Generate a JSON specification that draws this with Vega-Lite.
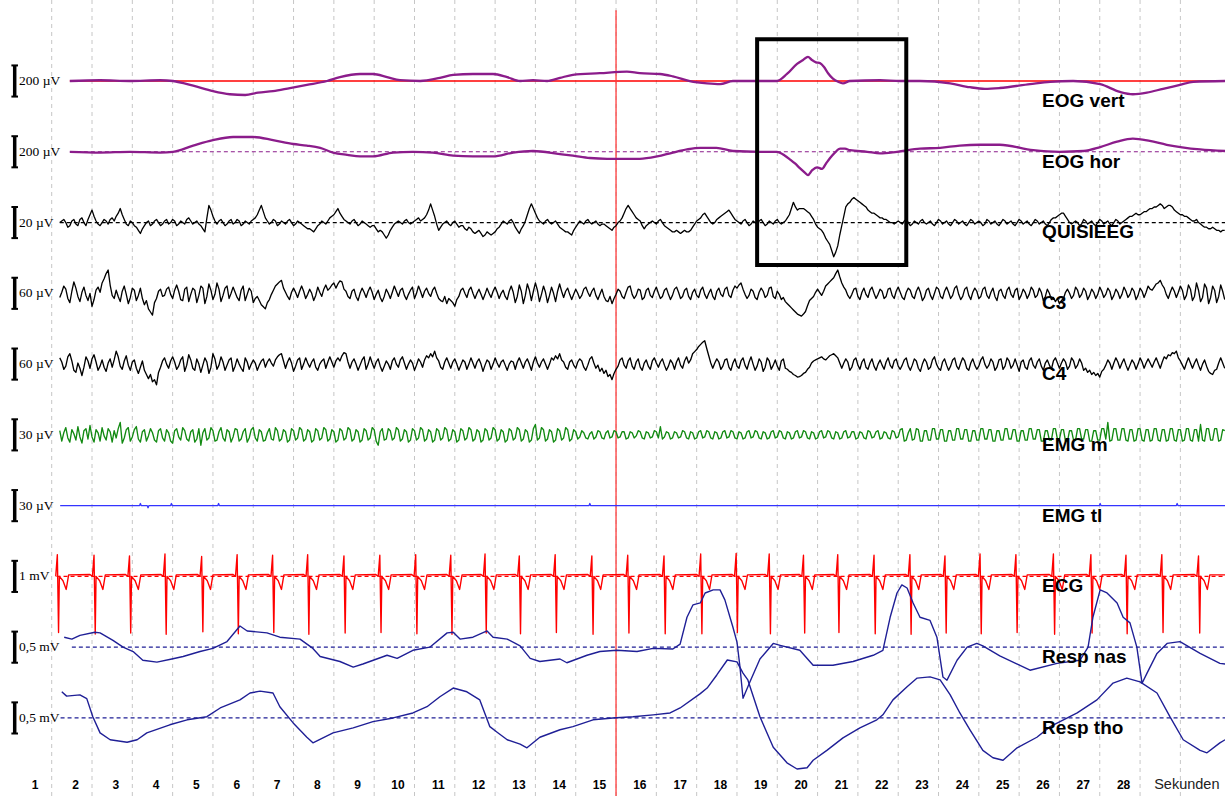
{
  "$schema": "https://vega.github.io/schema/vega-lite/v6.json",
  "width": 1225,
  "height": 796,
  "padding": 0,
  "autosize": {"type": "none"},
  "background": "white",
  "config": {"view": {"stroke": null}},
  "datasets": {
    "seconds": [{"t":1},{"t":2},{"t":3},{"t":4},{"t":5},{"t":6},{"t":7},{"t":8},{"t":9},{"t":10},{"t":11},{"t":12},{"t":13},{"t":14},{"t":15},{"t":16},{"t":17},{"t":18},{"t":19},{"t":20},{"t":21},{"t":22},{"t":23},{"t":24},{"t":25},{"t":26},{"t":27},{"t":28},{"t":29}],
    "channels": [
      {"key":"ev","name":"EOG vert","bar":"200 µV"},
      {"key":"eh","name":"EOG hor","bar":"200 µV"},
      {"key":"q","name":"QUISIEEG","bar":"20 µV"},
      {"key":"a","name":"C3","bar":"60 µV"},
      {"key":"b","name":"C4","bar":"60 µV"},
      {"key":"m","name":"EMG m","bar":"30 µV"},
      {"key":"tl","name":"EMG tl","bar":"30 µV"},
      {"key":"ecg","name":"ECG","bar":"1 mV"},
      {"key":"rn","name":"Resp nas","bar":"0,5 mV"},
      {"key":"rt","name":"Resp tho","bar":"0,5 mV"}
    ],
    "traces": [
      {"t":1.45,"ev":0,"eh":0},{"t":2.2,"ev":5,"eh":-5},{"t":2.94,"ev":0,"eh":0},{"t":3.69,"ev":5,"eh":-5},{"t":4.01,"ev":0,"eh":0},{"t":4.51,"ev":-30,"eh":40},{"t":5.0,"ev":-65,"eh":75},{"t":5.42,"ev":-85},{"t":5.5,"eh":95},{"t":5.8,"ev":-90},{"t":5.99,"eh":95},{"t":6.12,"ev":-75},{"t":6.49,"ev":-65,"eh":75},{"t":6.91,"ev":-45},{"t":6.99,"eh":50},{"t":7.33,"ev":-25,"eh":40},{"t":7.66,"eh":25},{"t":7.83,"ev":0},{"t":7.98,"eh":-5},{"t":8.15,"ev":25},{"t":8.33,"eh":-20},{"t":8.65,"ev":45,"eh":-30},{"t":8.97,"ev":45,"eh":-30},{"t":9.32,"ev":25},{"t":9.47,"eh":-5},{"t":9.64,"ev":5},{"t":9.96,"eh":0},{"t":10.14,"ev":0},{"t":10.46,"eh":-5},{"t":10.63,"ev":20},{"t":10.96,"ev":40,"eh":-25},{"t":11.45,"ev":45,"eh":-30},{"t":11.95,"ev":45,"eh":-30},{"t":12.3,"ev":25},{"t":12.45,"eh":-5},{"t":12.62,"ev":0},{"t":12.94,"ev":5,"eh":5},{"t":13.29,"ev":0},{"t":13.61,"ev":20,"eh":-15},{"t":13.93,"ev":40,"eh":-25},{"t":14.35,"eh":-40},{"t":14.6,"ev":50},{"t":14.78,"eh":-45},{"t":15.27,"ev":60},{"t":15.59,"ev":50,"eh":-45},{"t":16.02,"eh":-30},{"t":16.09,"ev":45},{"t":16.41,"ev":30,"eh":-5},{"t":16.76,"eh":15},{"t":16.83,"ev":0},{"t":17.09,"eh":25},{"t":17.26,"ev":-15},{"t":17.49,"eh":25},{"t":17.58,"ev":-20},{"t":17.9,"ev":0,"eh":5},{"t":18.57,"ev":0,"eh":0},{"t":18.99,"ev":0,"eh":0},{"t":19.19,"eh":-25},{"t":19.24,"ev":45},{"t":19.32,"eh":-50},{"t":19.44,"eh":-75},{"t":19.49,"ev":110},{"t":19.56,"eh":-105},{"t":19.64,"ev":135},{"t":19.69,"eh":-135},{"t":19.76,"ev":155,"eh":-150},{"t":19.86,"ev":135,"eh":-120},{"t":19.96,"ev":120},{"t":19.99,"eh":-100},{"t":20.06,"ev":115},{"t":20.11,"eh":-110},{"t":20.16,"ev":90},{"t":20.21,"eh":-75},{"t":20.26,"ev":50},{"t":20.31,"eh":-40},{"t":20.38,"ev":15},{"t":20.43,"eh":-5},{"t":20.51,"ev":-5},{"t":20.56,"eh":20},{"t":20.63,"ev":-15},{"t":20.68,"eh":20},{"t":20.8,"ev":0,"eh":10},{"t":21.23,"eh":0},{"t":21.55,"ev":5,"eh":-10},{"t":21.97,"eh":0},{"t":22.05,"ev":0},{"t":22.54,"ev":0,"eh":20},{"t":23.04,"eh":25},{"t":23.29,"ev":-15},{"t":23.53,"eh":40},{"t":23.78,"ev":-40},{"t":24.03,"eh":45},{"t":24.15,"ev":-50},{"t":24.52,"ev":-45,"eh":45},{"t":25.27,"ev":-20},{"t":25.35,"eh":10},{"t":25.77,"ev":-5},{"t":26.0,"eh":0},{"t":26.34,"ev":0},{"t":26.6,"eh":5},{"t":27.01,"ev":-20,"eh":30},{"t":27.43,"eh":65},{"t":27.5,"ev":-70},{"t":27.82,"ev":-85,"eh":85},{"t":28.17,"ev":-75},{"t":28.24,"eh":70},{"t":28.57,"ev":-50},{"t":28.66,"eh":45},{"t":28.99,"ev":-25},{"t":29.32,"ev":-5},{"t":29.49,"eh":15},{"t":30.11,"ev":0,"eh":5},

      {"t":1.2,"q":0,"a":-8,"b":12,"m":4},{"t":1.25,"q":1,"a":2,"b":4,"m":-6},{"t":1.3,"q":2,"a":14,"b":-10,"m":2},{"t":1.35,"q":0,"a":8,"b":-4,"m":7},{"t":1.4,"q":-3,"a":-10,"b":14,"m":-3},{"t":1.45,"q":-2,"a":-18,"b":20,"m":-7},{"t":1.5,"q":1,"a":4,"b":6,"m":5},{"t":1.55,"q":2,"a":22,"b":-12,"m":1},{"t":1.6,"q":-1,"a":10,"b":-16,"m":-5},{"t":1.65,"q":-2,"a":-6,"b":2,"m":8},
      {"t":1.7,"q":2,"a":-16,"b":-8,"m":-2},{"t":1.75,"q":3,"a":2,"b":-22,"m":-8},{"t":1.8,"q":0,"a":12,"b":-6,"m":4},{"t":1.85,"q":-2,"a":-4,"b":14,"m":6},{"t":1.9,"q":2,"a":-14,"b":6,"m":-4},{"t":1.95,"q":5,"a":0,"b":-8,"m":9},{"t":2.0,"q":8,"a":-25,"b":10,"m":-2},{"t":2.05,"q":4,"a":-12,"b":18,"m":-7},{"t":2.1,"q":1,"a":6,"b":4,"m":5},{"t":2.15,"q":-1,"a":12,"b":-12,"m":2},
      {"t":2.2,"q":-2,"a":2,"b":-4,"m":-6},{"t":2.25,"q":0,"a":20,"b":8,"m":7},{"t":2.3,"q":2,"a":28,"b":-6,"m":-1},{"t":2.35,"q":1,"a":38,"b":-14,"m":-5},{"t":2.4,"q":-1,"a":45,"b":2,"m":6},{"t":2.45,"q":2,"a":16,"b":10,"m":3},{"t":2.5,"q":3,"a":-4,"b":-6,"m":-7},{"t":2.55,"q":1,"a":-10,"b":8,"m":4},{"t":2.6,"q":4,"a":6,"b":25,"m":-3},{"t":2.65,"q":6,"a":-6,"b":14,"m":6},
      {"t":2.7,"q":9,"a":-16,"b":-4,"m":12},{"t":2.75,"q":5,"a":4,"b":-10,"m":-8},{"t":2.8,"q":2,"a":14,"b":6,"m":-3},{"t":2.85,"q":-1,"a":-2,"b":16,"m":5},{"t":2.9,"q":-2,"a":-20,"b":-2,"m":7},{"t":2.95,"q":1,"a":-8,"b":-12,"m":-6},{"t":3.0,"q":0,"a":10,"b":4,"m":-2},{"t":3.05,"q":-2,"a":6,"b":8,"m":5},{"t":3.1,"q":-3,"a":-14,"b":-8,"m":8},{"t":3.15,"q":-5,"a":-4,"b":-18,"m":-4},
      {"t":3.2,"q":-7,"a":10,"b":-6,"m":-7},{"t":3.25,"q":-4,"a":-10,"b":6,"m":3},{"t":3.3,"q":-2,"a":-22,"b":-12,"m":5},{"t":3.35,"q":0,"a":-14,"b":-20,"m":-6},{"t":3.4,"q":1,"a":-30,"b":-28,"m":-1},{"t":3.45,"q":-2,"a":-36,"b":-20,"m":6},{"t":3.5,"q":-1,"a":-42,"b":-34,"m":2},{"t":3.55,"q":1,"a":-18,"b":-30,"m":-5},{"t":3.6,"q":2,"a":-10,"b":-40,"m":-7},{"t":3.65,"q":0,"a":4,"b":-16,"m":4},
      {"t":3.7,"q":-2,"a":8,"b":-6,"m":6},{"t":3.75,"q":-1,"a":-6,"b":6,"m":-3},{"t":3.8,"q":1,"a":-4,"b":12,"m":-6},{"t":3.85,"q":2,"a":8,"b":0,"m":5},{"t":3.9,"q":-1,"a":12,"b":-8,"m":2},{"t":3.95,"q":0,"a":-2,"b":6,"m":-6},{"t":4.0,"q":2,"a":-10,"b":14,"m":-8},{"t":4.05,"q":1,"a":6,"b":4,"m":4},{"t":4.1,"q":-2,"a":16,"b":-10,"m":6},{"t":4.15,"q":-1,"a":4,"b":-4,"m":-2},
      {"t":4.2,"q":1,"a":-12,"b":8,"m":-5},{"t":4.25,"q":0,"a":-14,"b":14,"m":7},{"t":4.3,"q":-1,"a":8,"b":-14,"m":4},{"t":4.35,"q":2,"a":12,"b":-2,"m":-4},{"t":4.4,"q":3,"a":-16,"b":18,"m":-6},{"t":4.45,"q":1,"a":-2,"b":8,"m":3},{"t":4.5,"q":-1,"a":10,"b":-8,"m":5},{"t":4.55,"q":0,"a":6,"b":-12,"m":-7},{"t":4.6,"q":1,"a":-18,"b":10,"m":-4},{"t":4.65,"q":-1,"a":-4,"b":0,"m":6},
      {"t":4.7,"q":-2,"a":14,"b":-16,"m":-10},{"t":4.75,"q":-4,"a":10,"b":-2,"m":2},{"t":4.8,"q":-6,"a":-20,"b":12,"m":6},{"t":4.85,"q":3,"a":-6,"b":4,"m":-5},{"t":4.9,"q":11,"a":18,"b":-18,"m":-3},{"t":4.95,"q":8,"a":6,"b":-6,"m":7},{"t":5.0,"q":4,"a":-12,"b":20,"m":4},{"t":5.05,"q":1,"a":-2,"b":10,"m":-6},{"t":5.1,"q":-1,"a":20,"b":-10,"m":-5},{"t":5.15,"q":1,"a":8,"b":-2,"m":3},
      {"t":5.2,"q":2,"a":-16,"b":14,"m":7},{"t":5.25,"q":0,"a":-4,"b":4,"m":-3},{"t":5.3,"q":-2,"a":10,"b":-12,"m":-6},{"t":5.35,"q":-1,"a":14,"b":-2,"m":5},{"t":5.4,"q":1,"a":-10,"b":8,"m":3},{"t":5.45,"q":2,"a":0,"b":12,"m":-7},{"t":5.5,"q":-1,"a":12,"b":-14,"m":-2},{"t":5.55,"q":0,"a":2,"b":-4,"m":6},{"t":5.6,"q":2,"a":-8,"b":10,"m":5},{"t":5.65,"q":1,"a":-14,"b":0,"m":-6},
      {"t":5.7,"q":-2,"a":6,"b":-8,"m":-4},{"t":5.75,"q":-1,"a":14,"b":-14,"m":3},{"t":5.8,"q":1,"a":-14,"b":12,"m":6},{"t":5.85,"q":0,"a":-2,"b":4,"m":-7},{"t":5.9,"q":-1,"a":10,"b":-10,"m":-3},{"t":5.95,"q":1,"a":4,"b":0,"m":5},{"t":6.0,"q":2,"a":-18,"b":8,"m":7},{"t":6.05,"q":3,"a":-10,"b":2,"m":-3},{"t":6.1,"q":5,"a":-6,"b":-12,"m":-6},{"t":6.15,"q":8,"a":-14,"b":-2,"m":5},
      {"t":6.2,"q":11,"a":-22,"b":6,"m":3},{"t":6.25,"q":7,"a":-26,"b":10,"m":-6},{"t":6.3,"q":3,"a":-30,"b":-6,"m":-5},{"t":6.35,"q":1,"a":-18,"b":4,"m":2},{"t":6.4,"q":-1,"a":-12,"b":10,"m":6},{"t":6.45,"q":0,"a":-2,"b":2,"m":-4},{"t":6.5,"q":2,"a":6,"b":-4,"m":-5},{"t":6.55,"q":1,"a":14,"b":8,"m":7},{"t":6.6,"q":-2,"a":18,"b":14,"m":4},{"t":6.65,"q":-1,"a":22,"b":18,"m":-6},
      {"t":6.7,"q":1,"a":25,"b":20,"m":-4},{"t":6.75,"q":0,"a":10,"b":6,"m":5},{"t":6.8,"q":-1,"a":2,"b":-8,"m":3},{"t":6.85,"q":1,"a":-6,"b":4,"m":-7},{"t":6.9,"q":2,"a":-12,"b":12,"m":-5},{"t":6.95,"q":0,"a":2,"b":2,"m":6},{"t":7.0,"q":-2,"a":10,"b":-14,"m":4},{"t":7.05,"q":-1,"a":2,"b":-4,"m":-5},{"t":7.1,"q":1,"a":-8,"b":8,"m":-3},{"t":7.15,"q":0,"a":4,"b":12,"m":7},
      {"t":7.2,"q":-1,"a":14,"b":-10,"m":5},{"t":7.25,"q":-2,"a":4,"b":0,"m":-6},{"t":7.3,"q":-3,"a":-10,"b":12,"m":-4},{"t":7.35,"q":-4,"a":-2,"b":2,"m":5},{"t":7.4,"q":-4,"a":8,"b":-6,"m":3},{"t":7.45,"q":-5,"a":0,"b":4,"m":-7},{"t":7.5,"q":-6,"a":-14,"b":10,"m":-5},{"t":7.55,"q":-4,"a":-4,"b":-6,"m":6},{"t":7.6,"q":-2,"a":12,"b":-12,"m":4},{"t":7.65,"q":-1,"a":2,"b":0,"m":-5},
      {"t":7.7,"q":1,"a":-6,"b":6,"m":-3},{"t":7.75,"q":0,"a":8,"b":10,"m":7},{"t":7.8,"q":-1,"a":16,"b":-8,"m":5},{"t":7.85,"q":1,"a":6,"b":4,"m":-6},{"t":7.9,"q":3,"a":10,"b":14,"m":-4},{"t":7.95,"q":4,"a":16,"b":4,"m":5},{"t":8.0,"q":5,"a":20,"b":-6,"m":3},{"t":8.05,"q":7,"a":10,"b":6,"m":-7},{"t":8.1,"q":9,"a":18,"b":12,"m":-5},{"t":8.15,"q":6,"a":24,"b":6,"m":6},
      {"t":8.2,"q":4,"a":22,"b":16,"m":4},{"t":8.25,"q":2,"a":8,"b":22,"m":-5},{"t":8.3,"q":1,"a":4,"b":20,"m":-3},{"t":8.35,"q":0,"a":-6,"b":4,"m":7},{"t":8.4,"q":-1,"a":-10,"b":-8,"m":5},{"t":8.45,"q":1,"a":4,"b":4,"m":-6},{"t":8.5,"q":2,"a":8,"b":10,"m":-4},{"t":8.55,"q":0,"a":-6,"b":0,"m":5},{"t":8.6,"q":-2,"a":-14,"b":-12,"m":3},{"t":8.65,"q":-1,"a":0,"b":-2,"m":-7},
      {"t":8.7,"q":1,"a":10,"b":8,"m":-5},{"t":8.75,"q":0,"a":2,"b":14,"m":6},{"t":8.8,"q":-1,"a":-8,"b":-10,"m":4},{"t":8.85,"q":-2,"a":4,"b":0,"m":-5},{"t":8.9,"q":-3,"a":12,"b":14,"m":-3},{"t":8.95,"q":-2,"a":2,"b":2,"m":7},{"t":9.0,"q":-2,"a":-12,"b":-8,"m":5},{"t":9.05,"q":-4,"a":-2,"b":4,"m":-6},{"t":9.1,"q":-6,"a":6,"b":10,"m":-10},{"t":9.15,"q":-5,"a":-8,"b":-4,"m":3},
      {"t":9.2,"q":-6,"a":-16,"b":-14,"m":6},{"t":9.25,"q":-8,"a":-6,"b":-4,"m":-5},{"t":9.3,"q":-10,"a":8,"b":6,"m":-4},{"t":9.35,"q":-8,"a":0,"b":0,"m":6},{"t":9.4,"q":-5,"a":-10,"b":-10,"m":4},{"t":9.45,"q":-3,"a":2,"b":6,"m":-5},{"t":9.5,"q":-1,"a":14,"b":12,"m":-3},{"t":9.55,"q":0,"a":4,"b":0,"m":7},{"t":9.6,"q":1,"a":-6,"b":-6,"m":5},{"t":9.65,"q":0,"a":6,"b":8,"m":-6},
      {"t":9.7,"q":-1,"a":10,"b":14,"m":-4},{"t":9.75,"q":1,"a":-4,"b":2,"m":5},{"t":9.8,"q":2,"a":-12,"b":-10,"m":3},{"t":9.85,"q":0,"a":-2,"b":0,"m":-7},{"t":9.9,"q":-1,"a":6,"b":8,"m":-5},{"t":9.95,"q":0,"a":12,"b":2,"m":6},{"t":10.0,"q":1,"a":-10,"b":-12,"m":4},{"t":10.05,"q":2,"a":0,"b":-2,"m":-5},{"t":10.1,"q":3,"a":14,"b":10,"m":-3},{"t":10.15,"q":1,"a":4,"b":4,"m":7},
      {"t":10.2,"q":2,"a":-8,"b":-6,"m":5},{"t":10.25,"q":3,"a":4,"b":8,"m":-6},{"t":10.3,"q":5,"a":10,"b":16,"m":-4},{"t":10.35,"q":8,"a":0,"b":12,"m":5},{"t":10.4,"q":12,"a":-6,"b":20,"m":3},{"t":10.45,"q":8,"a":6,"b":14,"m":-7},{"t":10.5,"q":4,"a":12,"b":25,"m":-5},{"t":10.55,"q":-1,"a":0,"b":12,"m":6},{"t":10.6,"q":-5,"a":-10,"b":6,"m":4},{"t":10.65,"q":-3,"a":-14,"b":-6,"m":-5},
      {"t":10.7,"q":-1,"a":-16,"b":-10,"m":-3},{"t":10.75,"q":0,"a":-6,"b":4,"m":7},{"t":10.8,"q":1,"a":-20,"b":12,"m":5},{"t":10.85,"q":-1,"a":-10,"b":2,"m":-6},{"t":10.9,"q":-2,"a":-14,"b":-8,"m":-4},{"t":10.95,"q":0,"a":-18,"b":4,"m":5},{"t":11.0,"q":1,"a":-25,"b":10,"m":3},{"t":11.05,"q":-1,"a":-12,"b":0,"m":-7},{"t":11.1,"q":-3,"a":-6,"b":-12,"m":-5},{"t":11.15,"q":-2,"a":6,"b":-2,"m":6},
      {"t":11.2,"q":-2,"a":10,"b":8,"m":4},{"t":11.25,"q":-4,"a":0,"b":4,"m":-5},{"t":11.3,"q":-5,"a":-8,"b":-10,"m":-3},{"t":11.35,"q":-3,"a":6,"b":0,"m":7},{"t":11.4,"q":-4,"a":12,"b":12,"m":5},{"t":11.45,"q":-6,"a":0,"b":2,"m":-6},{"t":11.5,"q":-7,"a":-10,"b":-8,"m":-4},{"t":11.55,"q":-6,"a":0,"b":4,"m":5},{"t":11.6,"q":-5,"a":8,"b":10,"m":3},{"t":11.65,"q":-7,"a":-2,"b":0,"m":-7},
      {"t":11.7,"q":-9,"a":-12,"b":-14,"m":-5},{"t":11.75,"q":-8,"a":-2,"b":-2,"m":6},{"t":11.8,"q":-6,"a":10,"b":8,"m":4},{"t":11.85,"q":-7,"a":0,"b":4,"m":-5},{"t":11.9,"q":-8,"a":-8,"b":-10,"m":-3},{"t":11.95,"q":-7,"a":4,"b":0,"m":7},{"t":12.0,"q":-6,"a":12,"b":12,"m":5},{"t":12.05,"q":-4,"a":2,"b":2,"m":-6},{"t":12.1,"q":-3,"a":-10,"b":-6,"m":-4},{"t":12.15,"q":-1,"a":0,"b":4,"m":5},
      {"t":12.2,"q":1,"a":6,"b":8,"m":3},{"t":12.25,"q":0,"a":-6,"b":-2,"m":-7},{"t":12.3,"q":-1,"a":-12,"b":-12,"m":-5},{"t":12.35,"q":1,"a":4,"b":0,"m":6},{"t":12.4,"q":2,"a":14,"b":6,"m":4},{"t":12.45,"q":0,"a":2,"b":4,"m":-5},{"t":12.5,"q":-3,"a":-18,"b":-10,"m":-3},{"t":12.55,"q":-5,"a":-6,"b":4,"m":7},{"t":12.6,"q":-7,"a":16,"b":12,"m":5},{"t":12.65,"q":-4,"a":4,"b":2,"m":-6},
      {"t":12.7,"q":-2,"a":-20,"b":-8,"m":-4},{"t":12.75,"q":1,"a":-4,"b":4,"m":5},{"t":12.8,"q":5,"a":18,"b":10,"m":3},{"t":12.85,"q":9,"a":6,"b":0,"m":-7},{"t":12.9,"q":12,"a":-14,"b":-12,"m":-5},{"t":12.95,"q":9,"a":4,"b":4,"m":6},{"t":13.0,"q":6,"a":20,"b":14,"m":10},{"t":13.05,"q":3,"a":6,"b":2,"m":-5},{"t":13.1,"q":1,"a":-16,"b":-6,"m":-3},{"t":13.15,"q":0,"a":-2,"b":4,"m":7},
      {"t":13.2,"q":-1,"a":14,"b":10,"m":5},{"t":13.25,"q":1,"a":2,"b":0,"m":-6},{"t":13.3,"q":2,"a":-18,"b":-10,"m":-4},{"t":13.35,"q":0,"a":-4,"b":0,"m":5},{"t":13.4,"q":-1,"a":12,"b":12,"m":3},{"t":13.45,"q":0,"a":0,"b":8,"m":-7},{"t":13.5,"q":1,"a":-16,"b":16,"m":-5},{"t":13.55,"q":-1,"a":4,"b":10,"m":6},{"t":13.6,"q":-3,"a":18,"b":20,"m":4},{"t":13.65,"q":-4,"a":4,"b":8,"m":-5},
      {"t":13.7,"q":-5,"a":-8,"b":4,"m":-3},{"t":13.75,"q":-6,"a":4,"b":-6,"m":7},{"t":13.8,"q":-6,"a":10,"b":-10,"m":5},{"t":13.85,"q":-7,"a":-2,"b":4,"m":-6},{"t":13.9,"q":-8,"a":-12,"b":8,"m":-4},{"t":13.95,"q":-5,"a":-2,"b":-2,"m":5},{"t":14.0,"q":-3,"a":8,"b":-8,"m":3},{"t":14.05,"q":-1,"a":0,"b":4,"m":-4},
      {"t":14.1,"q":1,"a":-10,"b":10,"m":-2},{"t":14.15,"q":0,"a":-4,"b":6,"m":4},{"t":14.2,"q":-1,"a":8,"b":-6,"m":2},{"t":14.25,"q":1,"a":12,"b":-12,"m":-3},{"t":14.3,"q":2,"a":2,"b":-2,"m":-4},{"t":14.35,"q":0,"a":-6,"b":10,"m":1},{"t":14.4,"q":-1,"a":4,"b":14,"m":3},{"t":14.45,"q":0,"a":10,"b":2,"m":-4},{"t":14.5,"q":1,"a":-4,"b":-8,"m":-2},{"t":14.55,"q":-1,"a":-12,"b":-2,"m":4},
      {"t":14.6,"q":-2,"a":-2,"b":-14,"m":3},{"t":14.65,"q":-1,"a":8,"b":-8,"m":-3},{"t":14.7,"q":-1,"a":-6,"b":-18,"m":-4},{"t":14.75,"q":-2,"a":-14,"b":-12,"m":2},{"t":14.8,"q":-3,"a":-16,"b":-24,"m":4},{"t":14.85,"q":-4,"a":-6,"b":-20,"m":-3},{"t":14.9,"q":-5,"a":-20,"b":-30,"m":-2},{"t":14.95,"q":-3,"a":-10,"b":-18,"m":4},{"t":15.0,"q":-2,"a":-2,"b":-10,"m":3},{"t":15.05,"q":0,"a":8,"b":-4,"m":-3},
      {"t":15.1,"q":1,"a":4,"b":8,"m":-2},{"t":15.15,"q":3,"a":-6,"b":12,"m":3},{"t":15.2,"q":6,"a":-10,"b":-2,"m":3},{"t":15.25,"q":9,"a":2,"b":-8,"m":-4},{"t":15.3,"q":11,"a":12,"b":6,"m":-3},{"t":15.35,"q":9,"a":14,"b":12,"m":3},{"t":15.4,"q":7,"a":-2,"b":-4,"m":2},{"t":15.45,"q":5,"a":-10,"b":-10,"m":-3},{"t":15.5,"q":3,"a":-4,"b":4,"m":-1},{"t":15.55,"q":2,"a":8,"b":10,"m":4},
      {"t":15.6,"q":1,"a":6,"b":-6,"m":3},{"t":15.65,"q":-2,"a":-12,"b":-12,"m":-3},{"t":15.7,"q":-4,"a":-8,"b":2,"m":-4},{"t":15.75,"q":-2,"a":6,"b":8,"m":3},{"t":15.8,"q":-1,"a":10,"b":-4,"m":2},{"t":15.85,"q":0,"a":-4,"b":-10,"m":-3},{"t":15.9,"q":1,"a":-8,"b":6,"m":-2},{"t":15.95,"q":0,"a":4,"b":12,"m":4},{"t":16.0,"q":-1,"a":12,"b":2,"m":3},{"t":16.05,"q":1,"a":0,"b":-6,"m":-3},
      {"t":16.1,"q":2,"a":-10,"b":4,"m":8},{"t":16.15,"q":0,"a":-6,"b":10,"m":-4},{"t":16.2,"q":-2,"a":6,"b":-2,"m":-2},{"t":16.25,"q":-3,"a":10,"b":-12,"m":3},{"t":16.3,"q":-4,"a":-2,"b":-4,"m":2},{"t":16.35,"q":-5,"a":-12,"b":8,"m":-4},{"t":16.4,"q":-6,"a":-4,"b":2,"m":-3},{"t":16.45,"q":-6,"a":8,"b":-10,"m":3},{"t":16.5,"q":-5,"a":12,"b":4,"m":2},{"t":16.55,"q":-6,"a":2,"b":12,"m":-3},
      {"t":16.6,"q":-7,"a":-10,"b":-2,"m":-2},{"t":16.65,"q":-6,"a":-6,"b":-8,"m":4},{"t":16.7,"q":-5,"a":6,"b":6,"m":3},{"t":16.75,"q":-6,"a":10,"b":14,"m":-3},{"t":16.8,"q":-6,"a":-6,"b":2,"m":-4},{"t":16.85,"q":-5,"a":-12,"b":8,"m":3},{"t":16.9,"q":-3,"a":2,"b":20,"m":2},{"t":16.95,"q":-1,"a":8,"b":24,"m":-4},{"t":17.0,"q":1,"a":-4,"b":28,"m":-3},{"t":17.05,"q":2,"a":-8,"b":34,"m":3},
      {"t":17.1,"q":3,"a":6,"b":38,"m":4},{"t":17.15,"q":5,"a":12,"b":42,"m":-3},{"t":17.2,"q":6,"a":-2,"b":45,"m":-2},{"t":17.25,"q":4,"a":-10,"b":30,"m":4},{"t":17.3,"q":2,"a":0,"b":16,"m":3},{"t":17.35,"q":0,"a":8,"b":2,"m":-3},{"t":17.4,"q":-1,"a":-6,"b":-8,"m":-4},{"t":17.45,"q":0,"a":-12,"b":2,"m":3},{"t":17.5,"q":2,"a":4,"b":10,"m":2},{"t":17.55,"q":3,"a":10,"b":4,"m":-4},
      {"t":17.6,"q":4,"a":-2,"b":-10,"m":-3},{"t":17.65,"q":5,"a":-6,"b":-4,"m":3},{"t":17.7,"q":6,"a":8,"b":8,"m":4},{"t":17.75,"q":7,"a":12,"b":10,"m":-3},{"t":17.8,"q":8,"a":-4,"b":-6,"m":-2},{"t":17.85,"q":6,"a":-8,"b":-12,"m":4},{"t":17.9,"q":4,"a":6,"b":2,"m":3},{"t":17.95,"q":2,"a":14,"b":10,"m":-3},{"t":18.0,"q":1,"a":10,"b":-4,"m":-4},{"t":18.05,"q":0,"a":16,"b":-8,"m":3},
      {"t":18.1,"q":-1,"a":20,"b":6,"m":2},{"t":18.15,"q":1,"a":8,"b":12,"m":-4},{"t":18.2,"q":2,"a":-2,"b":-2,"m":-3},{"t":18.25,"q":0,"a":-10,"b":-10,"m":3},{"t":18.3,"q":-2,"a":-4,"b":4,"m":4},{"t":18.35,"q":-1,"a":8,"b":14,"m":-3},{"t":18.4,"q":1,"a":4,"b":0,"m":-2},{"t":18.45,"q":0,"a":-8,"b":-12,"m":4},{"t":18.5,"q":-1,"a":-12,"b":-4,"m":3},{"t":18.55,"q":1,"a":2,"b":10,"m":-3},
      {"t":18.6,"q":2,"a":10,"b":4,"m":-4},{"t":18.65,"q":0,"a":4,"b":-14,"m":3},{"t":18.7,"q":-2,"a":-8,"b":-6,"m":2},{"t":18.75,"q":-1,"a":-4,"b":12,"m":-4},{"t":18.8,"q":1,"a":10,"b":6,"m":-3},{"t":18.85,"q":0,"a":12,"b":-10,"m":3},{"t":18.9,"q":-1,"a":-6,"b":-2,"m":4},{"t":18.95,"q":1,"a":-10,"b":8,"m":-3},{"t":19.0,"q":2,"a":4,"b":-4,"m":-2},{"t":19.05,"q":0,"a":-2,"b":-12,"m":4},
      {"t":19.1,"q":-1,"a":-12,"b":6,"m":3},{"t":19.15,"q":0,"a":-8,"b":10,"m":-3},{"t":19.2,"q":1,"a":-16,"b":-8,"m":-4},{"t":19.25,"q":3,"a":-20,"b":-10,"m":3},{"t":19.3,"q":5,"a":-24,"b":-14,"m":2},{"t":19.35,"q":9,"a":-28,"b":-16,"m":-4},{"t":19.4,"q":13,"a":-32,"b":-20,"m":-3},{"t":19.45,"q":10,"a":-36,"b":-22,"m":3},{"t":19.5,"q":8,"a":-40,"b":-25,"m":4},{"t":19.55,"q":9,"a":-42,"b":-24,"m":-3},
      {"t":19.6,"q":9,"a":-44,"b":-22,"m":-2},{"t":19.65,"q":9,"a":-40,"b":-18,"m":4},{"t":19.7,"q":8,"a":-35,"b":-16,"m":3},{"t":19.75,"q":7,"a":-24,"b":-10,"m":-3},{"t":19.8,"q":6,"a":-14,"b":-6,"m":-4},{"t":19.85,"q":4,"a":-10,"b":2,"m":3},{"t":19.9,"q":2,"a":-6,"b":6,"m":2},{"t":19.95,"q":-1,"a":2,"b":8,"m":-4},{"t":20.0,"q":-3,"a":8,"b":10,"m":-3},{"t":20.05,"q":-4,"a":2,"b":12,"m":3},
      {"t":20.1,"q":-5,"a":-4,"b":14,"m":4},{"t":20.15,"q":-7,"a":4,"b":10,"m":-3},{"t":20.2,"q":-10,"a":14,"b":8,"m":-2},{"t":20.25,"q":-12,"a":18,"b":12,"m":4},{"t":20.3,"q":-14,"a":22,"b":16,"m":3},{"t":20.35,"q":-18,"a":26,"b":18,"m":-3},{"t":20.4,"q":-22,"a":30,"b":20,"m":-4},{"t":20.45,"q":-19,"a":38,"b":16,"m":3},{"t":20.5,"q":-15,"a":45,"b":12,"m":2},{"t":20.55,"q":-8,"a":32,"b":2,"m":-4},
      {"t":20.6,"q":-2,"a":20,"b":-8,"m":-3},{"t":20.65,"q":4,"a":12,"b":2,"m":3},{"t":20.7,"q":10,"a":6,"b":10,"m":4},{"t":20.75,"q":12,"a":-4,"b":4,"m":-3},{"t":20.8,"q":13,"a":-10,"b":-12,"m":-2},{"t":20.85,"q":15,"a":-2,"b":-6,"m":3},{"t":20.9,"q":16,"a":8,"b":8,"m":3},{"t":20.95,"q":15,"a":10,"b":12,"m":-4},{"t":21.0,"q":14,"a":-6,"b":-2,"m":-3},{"t":21.05,"q":13,"a":-12,"b":-10,"m":3},
      {"t":21.1,"q":12,"a":2,"b":4,"m":2},{"t":21.15,"q":11,"a":10,"b":10,"m":-3},{"t":21.2,"q":10,"a":-2,"b":-6,"m":-4},{"t":21.25,"q":8,"a":-8,"b":-10,"m":4},{"t":21.3,"q":7,"a":6,"b":2,"m":3},{"t":21.35,"q":6,"a":12,"b":10,"m":-3},{"t":21.4,"q":6,"a":0,"b":-4,"m":-2},{"t":21.45,"q":5,"a":-10,"b":-12,"m":3},{"t":21.5,"q":4,"a":-2,"b":0,"m":4},{"t":21.55,"q":3,"a":8,"b":8,"m":-4},
      {"t":21.6,"q":3,"a":4,"b":-2,"m":-3},{"t":21.65,"q":2,"a":-10,"b":-10,"m":3},{"t":21.7,"q":2,"a":-6,"b":4,"m":2},{"t":21.75,"q":1,"a":8,"b":12,"m":-3},{"t":21.8,"q":0,"a":10,"b":-2,"m":-4},{"t":21.85,"q":0,"a":-4,"b":-8,"m":4},{"t":21.9,"q":-1,"a":-10,"b":6,"m":3},{"t":21.95,"q":0,"a":4,"b":10,"m":-3},{"t":22.0,"q":1,"a":12,"b":-4,"m":-2},
      {"t":22.05,"q":0,"a":2,"b":-10,"m":5},{"t":22.1,"q":-1,"a":-8,"b":-2,"m":6},{"t":22.15,"q":1,"a":-12,"b":8,"m":-6},{"t":22.2,"q":2,"a":2,"b":12,"m":-5},{"t":22.25,"q":0,"a":10,"b":-4,"m":2},{"t":22.3,"q":-2,"a":6,"b":-12,"m":6},{"t":22.35,"q":-1,"a":-6,"b":-2,"m":-5},{"t":22.4,"q":1,"a":-10,"b":10,"m":-4},{"t":22.45,"q":0,"a":4,"b":6,"m":6},{"t":22.5,"q":-1,"a":12,"b":-8,"m":5},
      {"t":22.55,"q":1,"a":2,"b":-14,"m":-6},{"t":22.6,"q":2,"a":-14,"b":0,"m":-6},{"t":22.65,"q":0,"a":-8,"b":10,"m":4},{"t":22.7,"q":-1,"a":6,"b":4,"m":4},{"t":22.75,"q":0,"a":10,"b":-10,"m":-5},{"t":22.8,"q":1,"a":-4,"b":-6,"m":-5},{"t":22.85,"q":-1,"a":-12,"b":8,"m":6},{"t":22.9,"q":-2,"a":0,"b":14,"m":6},{"t":22.95,"q":0,"a":12,"b":0,"m":-4},{"t":23.0,"q":2,"a":8,"b":-8,"m":-4},
      {"t":23.05,"q":1,"a":-6,"b":-12,"m":5},{"t":23.1,"q":-1,"a":-10,"b":4,"m":5},{"t":23.15,"q":0,"a":4,"b":10,"m":-6},{"t":23.2,"q":1,"a":12,"b":-2,"m":-6},{"t":23.25,"q":-1,"a":2,"b":-12,"m":4},{"t":23.3,"q":-2,"a":-10,"b":-4,"m":4},{"t":23.35,"q":0,"a":-4,"b":8,"m":-5},{"t":23.4,"q":2,"a":10,"b":12,"m":-5},{"t":23.45,"q":1,"a":14,"b":-4,"m":6},{"t":23.5,"q":-1,"a":-2,"b":-10,"m":6},
      {"t":23.55,"q":0,"a":-12,"b":2,"m":-4},{"t":23.6,"q":1,"a":-6,"b":12,"m":-4},{"t":23.65,"q":-1,"a":8,"b":6,"m":5},{"t":23.7,"q":-2,"a":12,"b":-8,"m":5},{"t":23.75,"q":0,"a":-4,"b":-12,"m":-6},{"t":23.8,"q":2,"a":-12,"b":2,"m":-6},{"t":23.85,"q":1,"a":2,"b":10,"m":4},{"t":23.9,"q":-1,"a":10,"b":-2,"m":4},{"t":23.95,"q":0,"a":4,"b":-10,"m":-5},{"t":24.0,"q":1,"a":-10,"b":-4,"m":-5},
      {"t":24.05,"q":0,"a":-6,"b":8,"m":6},{"t":24.1,"q":-2,"a":8,"b":14,"m":6},{"t":24.15,"q":-1,"a":12,"b":0,"m":-4},{"t":24.2,"q":2,"a":-4,"b":-8,"m":-4},{"t":24.25,"q":1,"a":-10,"b":-2,"m":5},{"t":24.3,"q":-1,"a":2,"b":10,"m":5},{"t":24.35,"q":0,"a":10,"b":4,"m":-6},{"t":24.4,"q":1,"a":-6,"b":-12,"m":-6},{"t":24.45,"q":-1,"a":-14,"b":-6,"m":4},{"t":24.5,"q":-2,"a":4,"b":8,"m":4},
      {"t":24.55,"q":0,"a":8,"b":10,"m":-5},{"t":24.6,"q":2,"a":-4,"b":-10,"m":-5},{"t":24.65,"q":1,"a":-10,"b":-4,"m":6},{"t":24.7,"q":-1,"a":6,"b":12,"m":6},{"t":24.75,"q":0,"a":12,"b":6,"m":-4},{"t":24.8,"q":1,"a":-2,"b":-8,"m":-4},{"t":24.85,"q":-1,"a":-8,"b":-2,"m":5},{"t":24.9,"q":-2,"a":6,"b":10,"m":5},{"t":24.95,"q":0,"a":10,"b":-2,"m":-6},{"t":25.0,"q":2,"a":-12,"b":-14,"m":-6},
      {"t":25.05,"q":1,"a":-4,"b":4,"m":4},{"t":25.1,"q":-1,"a":8,"b":8,"m":4},{"t":25.15,"q":0,"a":2,"b":-6,"m":-5},{"t":25.2,"q":1,"a":-10,"b":-10,"m":-5},{"t":25.25,"q":-1,"a":-2,"b":6,"m":6},{"t":25.3,"q":-2,"a":12,"b":12,"m":6},{"t":25.35,"q":0,"a":6,"b":-2,"m":-4},{"t":25.4,"q":2,"a":-8,"b":-8,"m":-4},{"t":25.45,"q":1,"a":-4,"b":4,"m":5},{"t":25.5,"q":-1,"a":10,"b":10,"m":5},
      {"t":25.55,"q":0,"a":2,"b":-4,"m":-6},{"t":25.6,"q":1,"a":-14,"b":-12,"m":-6},{"t":25.65,"q":-1,"a":-6,"b":2,"m":4},{"t":25.7,"q":-2,"a":8,"b":8,"m":4},{"t":25.75,"q":0,"a":0,"b":-2,"m":-5},{"t":25.8,"q":2,"a":-12,"b":-10,"m":-5},{"t":25.85,"q":3,"a":-8,"b":6,"m":6},{"t":25.9,"q":3,"a":-16,"b":12,"m":6},{"t":25.95,"q":4,"a":-10,"b":2,"m":-4},{"t":26.0,"q":5,"a":-20,"b":-8,"m":-4},
      {"t":26.05,"q":6,"a":-14,"b":2,"m":5},{"t":26.1,"q":6,"a":-10,"b":10,"m":5},{"t":26.15,"q":4,"a":2,"b":4,"m":-6},{"t":26.2,"q":2,"a":8,"b":-10,"m":-6},{"t":26.25,"q":0,"a":0,"b":-4,"m":4},{"t":26.3,"q":-1,"a":-10,"b":12,"m":4},{"t":26.35,"q":0,"a":-4,"b":6,"m":-5},{"t":26.4,"q":1,"a":12,"b":-8,"m":-5},{"t":26.45,"q":0,"a":6,"b":-2,"m":6},{"t":26.5,"q":-2,"a":-8,"b":10,"m":6},
      {"t":26.55,"q":-1,"a":-2,"b":2,"m":-4},{"t":26.6,"q":2,"a":10,"b":-12,"m":-4},{"t":26.65,"q":1,"a":4,"b":-8,"m":5},{"t":26.7,"q":-1,"a":-12,"b":-16,"m":5},{"t":26.75,"q":0,"a":-4,"b":-12,"m":-6},{"t":26.8,"q":1,"a":8,"b":-20,"m":-6},{"t":26.85,"q":-1,"a":2,"b":-16,"m":4},{"t":26.9,"q":-2,"a":-10,"b":-22,"m":4},{"t":26.95,"q":0,"a":-2,"b":-18,"m":-5},{"t":27.0,"q":2,"a":12,"b":-25,"m":-5},
      {"t":27.05,"q":1,"a":4,"b":-14,"m":6},{"t":27.1,"q":-1,"a":-8,"b":-10,"m":6},{"t":27.15,"q":0,"a":-2,"b":-2,"m":-4},{"t":27.2,"q":1,"a":10,"b":8,"m":12},{"t":27.25,"q":-1,"a":4,"b":2,"m":-6},{"t":27.3,"q":-2,"a":-12,"b":-10,"m":-5},{"t":27.35,"q":0,"a":-4,"b":2,"m":6},{"t":27.4,"q":2,"a":8,"b":12,"m":6},{"t":27.45,"q":1,"a":2,"b":4,"m":-5},{"t":27.5,"q":-1,"a":-10,"b":-8,"m":-5},
      {"t":27.55,"q":0,"a":-2,"b":2,"m":6},{"t":27.6,"q":1,"a":12,"b":10,"m":6},{"t":27.65,"q":2,"a":4,"b":-2,"m":-5},{"t":27.7,"q":3,"a":-8,"b":-12,"m":-6},{"t":27.75,"q":4,"a":-2,"b":-2,"m":5},{"t":27.8,"q":4,"a":10,"b":8,"m":5},{"t":27.85,"q":5,"a":4,"b":2,"m":-6},{"t":27.9,"q":6,"a":-12,"b":-10,"m":-5},{"t":27.95,"q":5,"a":-4,"b":0,"m":6},{"t":28.0,"q":5,"a":10,"b":12,"m":6},
      {"t":28.05,"q":6,"a":4,"b":4,"m":-5},{"t":28.1,"q":7,"a":-8,"b":-8,"m":-6},{"t":28.15,"q":7,"a":2,"b":2,"m":5},{"t":28.2,"q":8,"a":14,"b":10,"m":5},{"t":28.25,"q":9,"a":8,"b":2,"m":-6},{"t":28.3,"q":9,"a":6,"b":-6,"m":-5},{"t":28.35,"q":10,"a":12,"b":4,"m":6},{"t":28.4,"q":10,"a":18,"b":12,"m":6},{"t":28.45,"q":11,"a":20,"b":2,"m":-5},{"t":28.5,"q":12,"a":25,"b":-8,"m":-6},
      {"t":28.55,"q":11,"a":16,"b":4,"m":5},{"t":28.6,"q":9,"a":10,"b":14,"m":5},{"t":28.65,"q":10,"a":-2,"b":10,"m":-6},{"t":28.7,"q":11,"a":-10,"b":18,"m":-5},{"t":28.75,"q":11,"a":2,"b":16,"m":6},{"t":28.8,"q":10,"a":12,"b":22,"m":6},{"t":28.85,"q":8,"a":4,"b":20,"m":-5},{"t":28.9,"q":7,"a":-8,"b":25,"m":-6},{"t":28.95,"q":6,"a":2,"b":12,"m":5},{"t":29.0,"q":5,"a":14,"b":6,"m":5},
      {"t":29.05,"q":5,"a":6,"b":-2,"m":-6},{"t":29.1,"q":4,"a":-12,"b":-10,"m":-5},{"t":29.15,"q":4,"a":-4,"b":2,"m":6},{"t":29.2,"q":3,"a":16,"b":12,"m":6},{"t":29.25,"q":2,"a":8,"b":2,"m":-5},{"t":29.3,"q":1,"a":-14,"b":-8,"m":-6},{"t":29.35,"q":1,"a":-6,"b":2,"m":5},{"t":29.4,"q":2,"a":20,"b":10,"m":5},{"t":29.45,"q":0,"a":6,"b":-2,"m":-6},{"t":29.5,"q":-1,"a":-16,"b":-12,"m":10},
      {"t":29.55,"q":-2,"a":-8,"b":0,"m":-5},{"t":29.6,"q":-3,"a":18,"b":8,"m":-6},{"t":29.65,"q":-3,"a":10,"b":-4,"m":6},{"t":29.7,"q":-4,"a":-20,"b":-14,"m":6},{"t":29.75,"q":-4,"a":-8,"b":-18,"m":-5},{"t":29.8,"q":-3,"a":14,"b":-20,"m":-5},{"t":29.85,"q":-4,"a":6,"b":-12,"m":6},{"t":29.9,"q":-5,"a":-18,"b":-10,"m":6},{"t":29.95,"q":-5,"a":-6,"b":2,"m":-6},{"t":30.0,"q":-6,"a":16,"b":12,"m":-5},
      {"t":30.05,"q":-5,"a":4,"b":2,"m":5},{"t":30.1,"q":-5,"a":-12,"b":-8,"m":4},

      {"t":1.21,"tl":0},{"t":3.18,"tl":0},{"t":3.2,"tl":2},{"t":3.22,"tl":0},{"t":3.37,"tl":0},{"t":3.39,"tl":-2},{"t":3.41,"tl":0},{"t":3.95,"tl":0},{"t":3.97,"tl":2},{"t":3.99,"tl":0},{"t":5.12,"tl":0},{"t":5.14,"tl":2},{"t":5.16,"tl":0},{"t":14.33,"tl":0},{"t":14.35,"tl":2},{"t":14.37,"tl":0},{"t":26.99,"tl":0},{"t":27.01,"tl":2},{"t":27.03,"tl":0},{"t":28.9,"tl":0},{"t":28.92,"tl":2},{"t":28.94,"tl":0},{"t":30.11,"tl":0},

      {"t":1.1,"ecg":0},{"t":1.14,"ecg":0.7},{"t":1.17,"ecg":-1.8},{"t":1.19,"ecg":0},{"t":1.28,"ecg":-0.14},{"t":1.36,"ecg":-0.42},{"t":1.42,"ecg":0.05},
      {"t":1.95,"ecg":0.06},{"t":2.01,"ecg":0},{"t":2.05,"ecg":0.68},{"t":2.08,"ecg":-1.85},{"t":2.1,"ecg":0},{"t":2.19,"ecg":-0.14},{"t":2.27,"ecg":-0.42},{"t":2.33,"ecg":0.05},
      {"t":2.83,"ecg":0.06},{"t":2.89,"ecg":0},{"t":2.93,"ecg":0.66},{"t":2.96,"ecg":-1.82},{"t":2.98,"ecg":0},{"t":3.07,"ecg":-0.14},{"t":3.15,"ecg":-0.42},{"t":3.21,"ecg":0.05},
      {"t":3.71,"ecg":0.06},{"t":3.77,"ecg":0},{"t":3.81,"ecg":0.72},{"t":3.84,"ecg":-1.86},{"t":3.86,"ecg":0},{"t":3.95,"ecg":-0.14},{"t":4.03,"ecg":-0.42},{"t":4.09,"ecg":0.05},
      {"t":4.62,"ecg":0.06},{"t":4.68,"ecg":0},{"t":4.72,"ecg":0.64},{"t":4.75,"ecg":-1.78},{"t":4.77,"ecg":0},{"t":4.86,"ecg":-0.14},{"t":4.94,"ecg":-0.42},{"t":5.0,"ecg":0.05},
      {"t":5.5,"ecg":0.06},{"t":5.56,"ecg":0},{"t":5.6,"ecg":0.7},{"t":5.63,"ecg":-1.84},{"t":5.65,"ecg":0},{"t":5.74,"ecg":-0.14},{"t":5.82,"ecg":-0.42},{"t":5.88,"ecg":0.05},
      {"t":6.38,"ecg":0.06},{"t":6.44,"ecg":0},{"t":6.48,"ecg":0.68},{"t":6.51,"ecg":-1.8},{"t":6.53,"ecg":0},{"t":6.62,"ecg":-0.14},{"t":6.7,"ecg":-0.42},{"t":6.76,"ecg":0.05},
      {"t":7.25,"ecg":0.06},{"t":7.31,"ecg":0},{"t":7.35,"ecg":0.7},{"t":7.38,"ecg":-1.86},{"t":7.4,"ecg":0},{"t":7.49,"ecg":-0.14},{"t":7.57,"ecg":-0.42},{"t":7.63,"ecg":0.05},
      {"t":8.15,"ecg":0.06},{"t":8.21,"ecg":0},{"t":8.25,"ecg":0.66},{"t":8.28,"ecg":-1.82},{"t":8.3,"ecg":0},{"t":8.39,"ecg":-0.14},{"t":8.47,"ecg":-0.42},{"t":8.53,"ecg":0.05},
      {"t":9.04,"ecg":0.06},{"t":9.1,"ecg":0},{"t":9.14,"ecg":0.68},{"t":9.17,"ecg":-1.8},{"t":9.19,"ecg":0},{"t":9.28,"ecg":-0.14},{"t":9.36,"ecg":-0.42},{"t":9.42,"ecg":0.05},
      {"t":9.93,"ecg":0.06},{"t":9.99,"ecg":0},{"t":10.03,"ecg":0.7},{"t":10.06,"ecg":-1.84},{"t":10.08,"ecg":0},{"t":10.17,"ecg":-0.14},{"t":10.25,"ecg":-0.42},{"t":10.31,"ecg":0.05},
      {"t":10.8,"ecg":0.06},{"t":10.86,"ecg":0},{"t":10.9,"ecg":0.68},{"t":10.93,"ecg":-1.86},{"t":10.95,"ecg":0},{"t":11.04,"ecg":-0.14},{"t":11.12,"ecg":-0.42},{"t":11.18,"ecg":0.05},
      {"t":11.65,"ecg":0.06},{"t":11.71,"ecg":0},{"t":11.75,"ecg":0.72},{"t":11.78,"ecg":-1.82},{"t":11.8,"ecg":0},{"t":11.89,"ecg":-0.14},{"t":11.97,"ecg":-0.42},{"t":12.03,"ecg":0.05},
      {"t":12.5,"ecg":0.06},{"t":12.56,"ecg":0},{"t":12.6,"ecg":0.66},{"t":12.63,"ecg":-1.84},{"t":12.65,"ecg":0},{"t":12.74,"ecg":-0.14},{"t":12.82,"ecg":-0.42},{"t":12.88,"ecg":0.05},
      {"t":13.39,"ecg":0.06},{"t":13.45,"ecg":0},{"t":13.49,"ecg":0.7},{"t":13.52,"ecg":-1.8},{"t":13.54,"ecg":0},{"t":13.63,"ecg":-0.14},{"t":13.71,"ecg":-0.42},{"t":13.77,"ecg":0.05},
      {"t":14.3,"ecg":0.06},{"t":14.36,"ecg":0},{"t":14.4,"ecg":0.66},{"t":14.43,"ecg":-1.86},{"t":14.45,"ecg":0},{"t":14.54,"ecg":-0.14},{"t":14.62,"ecg":-0.42},{"t":14.68,"ecg":0.05},
      {"t":15.19,"ecg":0.06},{"t":15.25,"ecg":0},{"t":15.29,"ecg":0.68},{"t":15.32,"ecg":-1.82},{"t":15.34,"ecg":0},{"t":15.43,"ecg":-0.14},{"t":15.51,"ecg":-0.42},{"t":15.57,"ecg":0.05},
      {"t":16.09,"ecg":0.06},{"t":16.15,"ecg":0},{"t":16.19,"ecg":0.66},{"t":16.22,"ecg":-1.84},{"t":16.24,"ecg":0},{"t":16.33,"ecg":-0.14},{"t":16.41,"ecg":-0.42},{"t":16.47,"ecg":0.05},
      {"t":17.0,"ecg":0.06},{"t":17.06,"ecg":0},{"t":17.1,"ecg":0.72},{"t":17.13,"ecg":-1.84},{"t":17.15,"ecg":0},{"t":17.24,"ecg":-0.14},{"t":17.32,"ecg":-0.42},{"t":17.38,"ecg":0.05},
      {"t":17.88,"ecg":0.06},{"t":17.94,"ecg":0},{"t":17.98,"ecg":0.74},{"t":18.01,"ecg":-1.8},{"t":18.03,"ecg":0},{"t":18.12,"ecg":-0.14},{"t":18.2,"ecg":-0.42},{"t":18.26,"ecg":0.05},
      {"t":18.7,"ecg":0.06},{"t":18.76,"ecg":0},{"t":18.8,"ecg":0.72},{"t":18.83,"ecg":-1.84},{"t":18.85,"ecg":0},{"t":18.94,"ecg":-0.14},{"t":19.02,"ecg":-0.42},{"t":19.08,"ecg":0.05},
      {"t":19.55,"ecg":0.06},{"t":19.61,"ecg":0},{"t":19.65,"ecg":0.68},{"t":19.68,"ecg":-1.82},{"t":19.7,"ecg":0},{"t":19.79,"ecg":-0.14},{"t":19.87,"ecg":-0.42},{"t":19.93,"ecg":0.05},
      {"t":20.4,"ecg":0.06},{"t":20.46,"ecg":0},{"t":20.5,"ecg":0.7},{"t":20.53,"ecg":-1.8},{"t":20.55,"ecg":0},{"t":20.64,"ecg":-0.14},{"t":20.72,"ecg":-0.42},{"t":20.78,"ecg":0.05},
      {"t":21.3,"ecg":0.06},{"t":21.36,"ecg":0},{"t":21.4,"ecg":0.68},{"t":21.43,"ecg":-1.84},{"t":21.45,"ecg":0},{"t":21.54,"ecg":-0.14},{"t":21.62,"ecg":-0.42},{"t":21.68,"ecg":0.05},
      {"t":22.19,"ecg":0.06},{"t":22.25,"ecg":0},{"t":22.29,"ecg":0.7},{"t":22.32,"ecg":-1.86},{"t":22.34,"ecg":0},{"t":22.43,"ecg":-0.14},{"t":22.51,"ecg":-0.42},{"t":22.57,"ecg":0.05},
      {"t":23.06,"ecg":0.06},{"t":23.12,"ecg":0},{"t":23.16,"ecg":0.66},{"t":23.19,"ecg":-1.82},{"t":23.21,"ecg":0},{"t":23.3,"ecg":-0.14},{"t":23.38,"ecg":-0.42},{"t":23.44,"ecg":0.05},
      {"t":23.93,"ecg":0.06},{"t":23.99,"ecg":0},{"t":24.03,"ecg":0.72},{"t":24.06,"ecg":-1.84},{"t":24.08,"ecg":0},{"t":24.17,"ecg":-0.14},{"t":24.25,"ecg":-0.42},{"t":24.31,"ecg":0.05},
      {"t":24.82,"ecg":0.06},{"t":24.88,"ecg":0},{"t":24.92,"ecg":0.7},{"t":24.95,"ecg":-1.8},{"t":24.97,"ecg":0},{"t":25.06,"ecg":-0.14},{"t":25.14,"ecg":-0.42},{"t":25.2,"ecg":0.05},
      {"t":25.75,"ecg":0.06},{"t":25.81,"ecg":0},{"t":25.85,"ecg":0.72},{"t":25.88,"ecg":-1.86},{"t":25.9,"ecg":0},{"t":25.99,"ecg":-0.14},{"t":26.07,"ecg":-0.42},{"t":26.13,"ecg":0.05},
      {"t":26.68,"ecg":0.06},{"t":26.74,"ecg":0},{"t":26.78,"ecg":0.7},{"t":26.81,"ecg":-1.82},{"t":26.83,"ecg":0},{"t":26.92,"ecg":-0.14},{"t":27.0,"ecg":-0.42},{"t":27.06,"ecg":0.05},
      {"t":27.55,"ecg":0.06},{"t":27.61,"ecg":0},{"t":27.65,"ecg":0.68},{"t":27.68,"ecg":-1.84},{"t":27.7,"ecg":0},{"t":27.79,"ecg":-0.14},{"t":27.87,"ecg":-0.42},{"t":27.93,"ecg":0.05},
      {"t":28.44,"ecg":0.06},{"t":28.5,"ecg":0},{"t":28.54,"ecg":0.7},{"t":28.57,"ecg":-1.8},{"t":28.59,"ecg":0},{"t":28.68,"ecg":-0.14},{"t":28.76,"ecg":-0.42},{"t":28.82,"ecg":0.05},
      {"t":29.35,"ecg":0.06},{"t":29.41,"ecg":0},{"t":29.45,"ecg":0.66},{"t":29.48,"ecg":-1.82},{"t":29.5,"ecg":0},{"t":29.59,"ecg":-0.14},{"t":29.67,"ecg":-0.42},{"t":29.73,"ecg":0.05},{"t":30.11,"ecg":0.05},

      {"t":1.31,"rn":0.16},{"t":1.5,"rn":0.13},{"t":1.7,"rn":0.19},{"t":2.07,"rn":0.24},{"t":2.2,"rn":0.23},{"t":2.52,"rn":0.11},{"t":2.77,"rn":0},{"t":3.02,"rn":-0.07},{"t":3.26,"rn":-0.21},{"t":3.61,"rn":-0.24},{"t":3.98,"rn":-0.19},{"t":4.26,"rn":-0.15},{"t":4.68,"rn":-0.07},{"t":5.0,"rn":-0.02},{"t":5.35,"rn":0.09},{"t":5.67,"rn":0.34},{"t":5.85,"rn":0.26},{"t":6.34,"rn":0.23},{"t":6.66,"rn":0.16},{"t":7.16,"rn":0.13},{"t":7.48,"rn":-0.02},{"t":7.66,"rn":-0.15},{"t":8.15,"rn":-0.23},{"t":8.48,"rn":-0.32},{"t":8.72,"rn":-0.27},{"t":9.32,"rn":-0.13},{"t":9.57,"rn":-0.18},{"t":9.96,"rn":-0.05},{"t":10.38,"rn":0},{"t":10.81,"rn":0.23},{"t":10.96,"rn":0.24},{"t":11.13,"rn":0.13},{"t":11.45,"rn":0.16},{"t":11.8,"rn":0.26},{"t":11.95,"rn":0.16},{"t":12.3,"rn":0.13},{"t":12.62,"rn":0.02},{"t":12.87,"rn":-0.18},{"t":13.11,"rn":-0.23},{"t":13.61,"rn":-0.19},{"t":13.78,"rn":-0.25},{"t":14.28,"rn":-0.13},{"t":14.6,"rn":-0.07},{"t":15.02,"rn":-0.05},{"t":15.52,"rn":-0.07},{"t":15.92,"rn":-0.02},{"t":16.41,"rn":-0.03},{"t":16.59,"rn":0.05},{"t":16.76,"rn":0.48},{"t":16.91,"rn":0.68},{"t":17.09,"rn":0.71},{"t":17.21,"rn":0.87},{"t":17.41,"rn":0.92},{"t":17.58,"rn":0.92},{"t":17.7,"rn":0.76},{"t":17.9,"rn":0.32},{"t":18.0,"rn":0.08},{"t":18.07,"rn":-0.29},{"t":18.15,"rn":-0.82},{"t":18.32,"rn":-0.56},{"t":18.57,"rn":-0.19},{"t":18.9,"rn":0.06},{"t":19.07,"rn":0.03},{"t":19.56,"rn":-0.05},{"t":19.89,"rn":-0.29},{"t":20.38,"rn":-0.29},{"t":20.88,"rn":-0.23},{"t":21.38,"rn":-0.13},{"t":21.62,"rn":-0.05},{"t":21.8,"rn":0.48},{"t":21.97,"rn":0.87},{"t":22.09,"rn":1.0},{"t":22.22,"rn":0.95},{"t":22.37,"rn":0.71},{"t":22.54,"rn":0.48},{"t":22.79,"rn":0.43},{"t":22.96,"rn":0.16},{"t":23.11,"rn":-0.48},{"t":23.21,"rn":-0.53},{"t":23.46,"rn":-0.21},{"t":23.71,"rn":0},{"t":23.95,"rn":0.06},{"t":24.1,"rn":0.02},{"t":24.52,"rn":-0.14},{"t":25.27,"rn":-0.37},{"t":25.94,"rn":-0.26},{"t":26.51,"rn":-0.21},{"t":26.71,"rn":0},{"t":26.83,"rn":0.48},{"t":27.01,"rn":0.92},{"t":27.18,"rn":0.87},{"t":27.43,"rn":0.71},{"t":27.58,"rn":0.48},{"t":27.75,"rn":0.39},{"t":27.92,"rn":0},{"t":28.05,"rn":-0.58},{"t":28.17,"rn":-0.42},{"t":28.42,"rn":-0.1},{"t":28.67,"rn":0.06},{"t":28.99,"rn":0.09},{"t":29.49,"rn":-0.1},{"t":29.98,"rn":-0.26},{"t":30.11,"rn":-0.27},

      {"t":1.25,"rt":0.42},{"t":1.37,"rt":0.35},{"t":1.7,"rt":0.37},{"t":1.87,"rt":0.31},{"t":2.02,"rt":0.02},{"t":2.2,"rt":-0.24},{"t":2.45,"rt":-0.35},{"t":2.87,"rt":-0.39},{"t":3.12,"rt":-0.35},{"t":3.36,"rt":-0.24},{"t":3.93,"rt":-0.11},{"t":4.36,"rt":-0.03},{"t":4.85,"rt":0.02},{"t":5.18,"rt":0.16},{"t":5.67,"rt":0.29},{"t":5.92,"rt":0.4},{"t":6.17,"rt":0.43},{"t":6.49,"rt":0.4},{"t":6.66,"rt":0.18},{"t":6.99,"rt":-0.08},{"t":7.33,"rt":-0.31},{"t":7.48,"rt":-0.4},{"t":7.98,"rt":-0.24},{"t":8.48,"rt":-0.16},{"t":8.97,"rt":-0.06},{"t":9.47,"rt":0},{"t":9.96,"rt":0.08},{"t":10.31,"rt":0.18},{"t":10.63,"rt":0.34},{"t":10.96,"rt":0.48},{"t":11.3,"rt":0.42},{"t":11.62,"rt":0.29},{"t":11.87,"rt":-0.14},{"t":12.05,"rt":-0.23},{"t":12.3,"rt":-0.35},{"t":12.62,"rt":-0.42},{"t":12.79,"rt":-0.48},{"t":13.11,"rt":-0.31},{"t":13.61,"rt":-0.19},{"t":13.93,"rt":-0.14},{"t":14.43,"rt":-0.03},{"t":14.92,"rt":0},{"t":15.42,"rt":0.02},{"t":15.92,"rt":0.05},{"t":16.34,"rt":0.08},{"t":16.59,"rt":0.16},{"t":17.09,"rt":0.39},{"t":17.26,"rt":0.48},{"t":17.5,"rt":0.69},{"t":17.76,"rt":0.93},{"t":18.0,"rt":0.9},{"t":18.15,"rt":0.72},{"t":18.27,"rt":0.61},{"t":18.57,"rt":0.02},{"t":18.9,"rt":-0.47},{"t":19.24,"rt":-0.72},{"t":19.49,"rt":-0.82},{"t":19.74,"rt":-0.8},{"t":19.89,"rt":-0.68},{"t":20.23,"rt":-0.52},{"t":20.63,"rt":-0.32},{"t":21.05,"rt":-0.16},{"t":21.47,"rt":-0.03},{"t":21.62,"rt":0.05},{"t":21.87,"rt":0.29},{"t":22.22,"rt":0.5},{"t":22.47,"rt":0.64},{"t":22.79,"rt":0.66},{"t":23.04,"rt":0.61},{"t":23.29,"rt":0.37},{"t":23.53,"rt":0.08},{"t":23.78,"rt":-0.19},{"t":24.1,"rt":-0.52},{"t":24.35,"rt":-0.64},{"t":24.6,"rt":-0.68},{"t":24.95,"rt":-0.48},{"t":25.44,"rt":-0.31},{"t":25.77,"rt":-0.14},{"t":26.44,"rt":0.08},{"t":26.93,"rt":0.29},{"t":27.33,"rt":0.56},{"t":27.67,"rt":0.64},{"t":28.0,"rt":0.58},{"t":28.42,"rt":0.4},{"t":28.74,"rt":0.02},{"t":29.07,"rt":-0.35},{"t":29.49,"rt":-0.52},{"t":29.66,"rt":-0.56},{"t":29.98,"rt":-0.4},{"t":30.11,"rt":-0.35}
    ]
  },
  "layer": [
    {
      "data": {"name": "seconds"},
      "mark": {"type": "rule", "color": "#c6c6c6", "strokeDash": [4, 4], "strokeWidth": 1},
      "encoding": {
        "x": {"field": "t", "type": "quantitative", "scale": {"domain": [-0.2826, 30.107], "nice": false, "zero": false}, "axis": null}
      }
    },
    {
      "data": {"name": "seconds"},
      "transform": [{"filter": "datum.t <= 28"}],
      "mark": {"type": "text", "dx": -16.5, "align": "center", "baseline": "middle", "font": "Liberation Sans", "fontSize": 12, "fontWeight": "bold", "color": "#000000"},
      "encoding": {
        "x": {"field": "t", "type": "quantitative", "scale": {"domain": [-0.2826, 30.107], "nice": false, "zero": false}, "axis": null},
        "y": {"datum": 10.95, "type": "quantitative", "scale": {"domain": [-0.1446, 11.103], "nice": false, "zero": false, "reverse": true}, "axis": null},
        "text": {"field": "t", "type": "nominal"}
      }
    },
    {
      "data": {"values": [{"key": "eh", "t": 1.45}, {"key": "q", "t": 1.2}, {"key": "ecg", "t": 1.12}, {"key": "rn", "t": 1.5}, {"key": "rt", "t": 1.22}]},
      "transform": [
        {"calculate": "indexof(['ev','eh','q','a','b','m','tl','ecg','rn','rt'], datum.key) + 1", "as": "lane"}
      ],
      "mark": {"type": "rule", "strokeDash": [4, 3], "strokeWidth": 1.2},
      "encoding": {
        "x": {"field": "t", "type": "quantitative", "scale": {"domain": [-0.2826, 30.107], "nice": false, "zero": false}, "axis": null},
        "x2": {"datum": 30.11},
        "y": {"field": "lane", "type": "quantitative", "scale": {"domain": [-0.1446, 11.103], "nice": false, "zero": false, "reverse": true}, "axis": null},
        "color": {"field": "key", "type": "nominal", "legend": null,
                  "scale": {"domain": ["ev","eh","q","a","b","m","tl","ecg","rn","rt"],
                            "range": ["#8b1c8b","#8b1c8b","#000000","#000000","#000000","#128a12","#3434ff","#ff0000","#1f1f96","#1f1f96"]}}
      }
    },
    {
      "data": {"values": [{"t": 1.45, "lane": 1}]},
      "mark": {"type": "rule", "color": "#ff0000", "strokeWidth": 1.5},
      "encoding": {
        "x": {"field": "t", "type": "quantitative", "scale": {"domain": [-0.2826, 30.107], "nice": false, "zero": false}, "axis": null},
        "x2": {"datum": 30.11},
        "y": {"field": "lane", "type": "quantitative", "scale": {"domain": [-0.1446, 11.103], "nice": false, "zero": false, "reverse": true}, "axis": null}
      }
    },
    {
      "data": {"values": [{"t": 15}]},
      "mark": {"type": "rule", "color": "#ff3c3c", "strokeWidth": 1.3},
      "encoding": {
        "x": {"field": "t", "type": "quantitative", "scale": {"domain": [-0.2826, 30.107], "nice": false, "zero": false}, "axis": null},
        "y": {"datum": 0, "type": "quantitative", "scale": {"domain": [-0.1446, 11.103], "nice": false, "zero": false, "reverse": true}, "axis": null},
        "y2": {"datum": 11.2}
      }
    },
    {
      "data": {"name": "traces"},
      "transform": [
        {"fold": ["ev","eh"], "as": ["key", "v"]},
        {"filter": "isValid(datum.v)"},
        {"calculate": "indexof(['ev','eh','q','a','b','m','tl','ecg','rn','rt'], datum.key) + 1", "as": "lane"},
        {"calculate": "datum.lane - datum.v / [200,200,20,60,60,30,30,1,0.5,0.5][datum.lane - 1] * 0.44", "as": "y"}
      ],
      "mark": {"type": "line", "interpolate": "monotone", "strokeWidth": 2.3, "strokeJoin": "round"},
      "encoding": {
        "x": {"field": "t", "type": "quantitative", "scale": {"domain": [-0.2826, 30.107], "nice": false, "zero": false}, "axis": null},
        "y": {"field": "y", "type": "quantitative", "scale": {"domain": [-0.1446, 11.103], "nice": false, "zero": false, "reverse": true}, "axis": null},
        "color": {"field": "key", "type": "nominal", "legend": null,
                  "scale": {"domain": ["ev","eh","q","a","b","m","tl","ecg","rn","rt"],
                            "range": ["#8b1c8b","#8b1c8b","#000000","#000000","#000000","#128a12","#3434ff","#ff0000","#1f1f96","#1f1f96"]}}
      }
    },
    {
      "data": {"name": "traces"},
      "transform": [
        {"fold": ["q","a","b","m","tl","ecg","rn","rt"], "as": ["key", "v"]},
        {"filter": "isValid(datum.v)"},
        {"calculate": "indexof(['ev','eh','q','a','b','m','tl','ecg','rn','rt'], datum.key) + 1", "as": "lane"},
        {"calculate": "datum.lane - datum.v / [200,200,20,60,60,30,30,1,0.5,0.5][datum.lane - 1] * 0.44", "as": "y"}
      ],
      "mark": {"type": "line", "strokeJoin": "round"},
      "encoding": {
        "x": {"field": "t", "type": "quantitative", "scale": {"domain": [-0.2826, 30.107], "nice": false, "zero": false}, "axis": null},
        "y": {"field": "y", "type": "quantitative", "scale": {"domain": [-0.1446, 11.103], "nice": false, "zero": false, "reverse": true}, "axis": null},
        "color": {"field": "key", "type": "nominal", "legend": null,
                  "scale": {"domain": ["ev","eh","q","a","b","m","tl","ecg","rn","rt"],
                            "range": ["#8b1c8b","#8b1c8b","#000000","#000000","#000000","#128a12","#3434ff","#ff0000","#1f1f96","#1f1f96"]}},
        "strokeWidth": {"field": "key", "type": "nominal", "legend": null,
                        "scale": {"domain": ["q","a","b","m","tl","ecg","rn","rt"],
                                  "range": [1.3, 1.4, 1.4, 1.3, 1.3, 1.1, 1.3, 1.3]}}
      }
    },
    {
      "data": {"values": [{"t": 18.5, "t2": 22.2, "lo": 0.41, "hi": 3.6}]},
      "mark": {"type": "rect", "filled": false, "stroke": "#000000", "strokeWidth": 4},
      "encoding": {
        "x": {"field": "t", "type": "quantitative", "scale": {"domain": [-0.2826, 30.107], "nice": false, "zero": false}, "axis": null},
        "x2": {"field": "t2"},
        "y": {"field": "lo", "type": "quantitative", "scale": {"domain": [-0.1446, 11.103], "nice": false, "zero": false, "reverse": true}, "axis": null},
        "y2": {"field": "hi"}
      }
    },
    {
      "data": {"name": "channels"},
      "transform": [
        {"calculate": "indexof(['ev','eh','q','a','b','m','tl','ecg','rn','rt'], datum.key) + 1", "as": "lane"},
        {"calculate": "datum.lane - 0.22", "as": "top"},
        {"calculate": "datum.lane + 0.22", "as": "bot"}
      ],
      "mark": {"type": "rule", "color": "#000000", "strokeWidth": 3.5},
      "encoding": {
        "x": {"datum": 0.082, "type": "quantitative", "scale": {"domain": [-0.2826, 30.107], "nice": false, "zero": false}, "axis": null},
        "y": {"field": "top", "type": "quantitative", "scale": {"domain": [-0.1446, 11.103], "nice": false, "zero": false, "reverse": true}, "axis": null},
        "y2": {"field": "bot"}
      }
    },
    {
      "data": {"name": "channels"},
      "transform": [
        {"calculate": "indexof(['ev','eh','q','a','b','m','tl','ecg','rn','rt'], datum.key) + 1", "as": "lane"},
        {"calculate": "datum.lane - 0.22", "as": "top"},
        {"calculate": "datum.lane + 0.22", "as": "bot"},
        {"fold": ["top", "bot"], "as": ["end", "yy"]}
      ],
      "mark": {"type": "rule", "color": "#000000", "strokeWidth": 2},
      "encoding": {
        "x": {"datum": 0.0, "type": "quantitative", "scale": {"domain": [-0.2826, 30.107], "nice": false, "zero": false}, "axis": null},
        "x2": {"datum": 0.164},
        "y": {"field": "yy", "type": "quantitative", "scale": {"domain": [-0.1446, 11.103], "nice": false, "zero": false, "reverse": true}, "axis": null}
      }
    },
    {
      "data": {"name": "channels"},
      "transform": [
        {"calculate": "indexof(['ev','eh','q','a','b','m','tl','ecg','rn','rt'], datum.key) + 1", "as": "lane"}
      ],
      "mark": {"type": "text", "align": "left", "baseline": "middle", "font": "Liberation Serif", "fontSize": 13.5, "color": "#000000"},
      "encoding": {
        "x": {"datum": 0.19, "type": "quantitative", "scale": {"domain": [-0.2826, 30.107], "nice": false, "zero": false}, "axis": null},
        "y": {"field": "lane", "type": "quantitative", "scale": {"domain": [-0.1446, 11.103], "nice": false, "zero": false, "reverse": true}, "axis": null},
        "text": {"field": "bar"}
      }
    },
    {
      "data": {"name": "channels"},
      "transform": [
        {"calculate": "indexof(['ev','eh','q','a','b','m','tl','ecg','rn','rt'], datum.key) + 1", "as": "lane"},
        {"calculate": "datum.lane + (datum.key == 'ev' ? 0.28 : 0.14)", "as": "ly"}
      ],
      "mark": {"type": "text", "align": "left", "baseline": "middle", "font": "Liberation Sans", "fontSize": 19, "fontWeight": "bold", "color": "#000000"},
      "encoding": {
        "x": {"datum": 25.57, "type": "quantitative", "scale": {"domain": [-0.2826, 30.107], "nice": false, "zero": false}, "axis": null},
        "y": {"field": "ly", "type": "quantitative", "scale": {"domain": [-0.1446, 11.103], "nice": false, "zero": false, "reverse": true}, "axis": null},
        "text": {"field": "name"}
      }
    },
    {
      "data": {"values": [{"label": "Sekunden"}]},
      "mark": {"type": "text", "align": "center", "baseline": "middle", "font": "Liberation Sans", "fontSize": 14.5, "color": "#222222"},
      "encoding": {
        "x": {"datum": 29.16, "type": "quantitative", "scale": {"domain": [-0.2826, 30.107], "nice": false, "zero": false}, "axis": null},
        "y": {"datum": 10.95, "type": "quantitative", "scale": {"domain": [-0.1446, 11.103], "nice": false, "zero": false, "reverse": true}, "axis": null},
        "text": {"field": "label"}
      }
    }
  ]
}
